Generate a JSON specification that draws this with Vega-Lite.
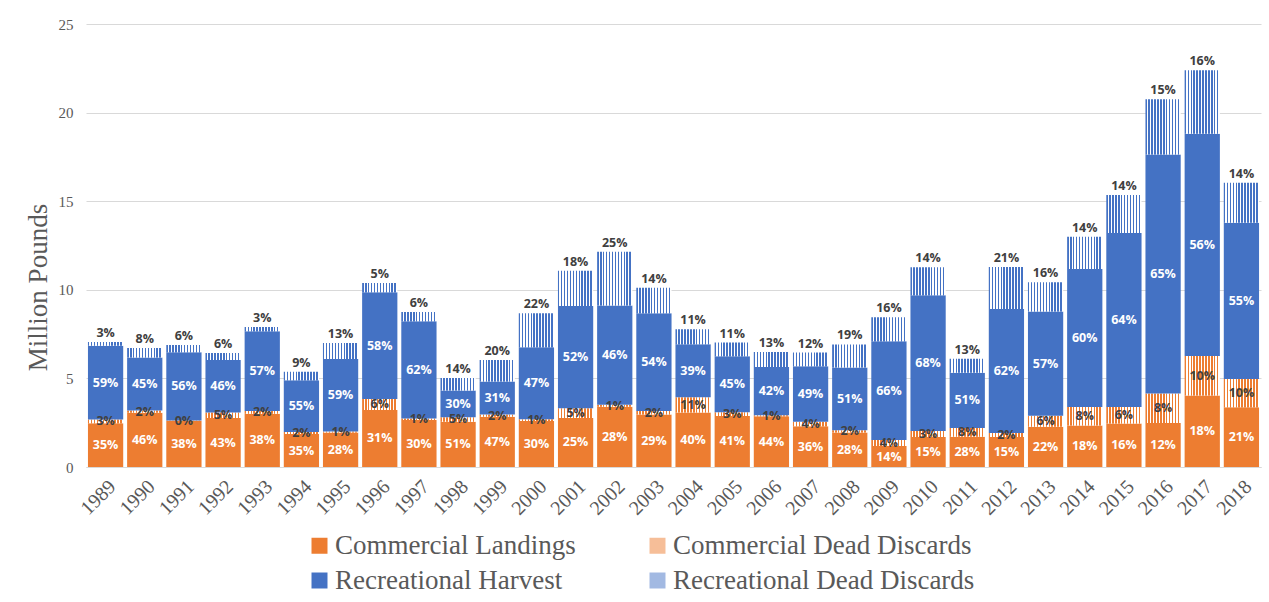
{
  "$schema": "https://vega.github.io/schema/vega-lite/v6.json",
  "width": 1175,
  "height": 443,
  "autosize": {"type": "none"},
  "padding": {"left": 86, "top": 24, "right": 8, "bottom": 135},
  "background": "white",
  "config": {"view": {"stroke": null}},
  "data": {"values": [
    {"year":"1989","series":"Commercial Landings","value":2.47,"pct":35},
    {"year":"1989","series":"Commercial Dead Discards","value":0.21,"pct":3},
    {"year":"1989","series":"Recreational Harvest","value":4.16,"pct":59},
    {"year":"1989","series":"Recreational Dead Discards","value":0.21,"pct":3},
    {"year":"1990","series":"Commercial Landings","value":3.06,"pct":46},
    {"year":"1990","series":"Commercial Dead Discards","value":0.13,"pct":2},
    {"year":"1990","series":"Recreational Harvest","value":2.99,"pct":45},
    {"year":"1990","series":"Recreational Dead Discards","value":0.53,"pct":8},
    {"year":"1991","series":"Commercial Landings","value":2.61,"pct":38},
    {"year":"1991","series":"Commercial Dead Discards","value":0.02,"pct":0},
    {"year":"1991","series":"Recreational Harvest","value":3.85,"pct":56},
    {"year":"1991","series":"Recreational Dead Discards","value":0.41,"pct":6},
    {"year":"1992","series":"Commercial Landings","value":2.76,"pct":43},
    {"year":"1992","series":"Commercial Dead Discards","value":0.32,"pct":5},
    {"year":"1992","series":"Recreational Harvest","value":2.96,"pct":46},
    {"year":"1992","series":"Recreational Dead Discards","value":0.39,"pct":6},
    {"year":"1993","series":"Commercial Landings","value":3.00,"pct":38},
    {"year":"1993","series":"Commercial Dead Discards","value":0.16,"pct":2},
    {"year":"1993","series":"Recreational Harvest","value":4.50,"pct":57},
    {"year":"1993","series":"Recreational Dead Discards","value":0.24,"pct":3},
    {"year":"1994","series":"Commercial Landings","value":1.86,"pct":35},
    {"year":"1994","series":"Commercial Dead Discards","value":0.11,"pct":2},
    {"year":"1994","series":"Recreational Harvest","value":2.92,"pct":55},
    {"year":"1994","series":"Recreational Dead Discards","value":0.48,"pct":9},
    {"year":"1995","series":"Commercial Landings","value":1.94,"pct":28},
    {"year":"1995","series":"Commercial Dead Discards","value":0.07,"pct":1},
    {"year":"1995","series":"Recreational Harvest","value":4.09,"pct":59},
    {"year":"1995","series":"Recreational Dead Discards","value":0.90,"pct":13},
    {"year":"1996","series":"Commercial Landings","value":3.22,"pct":31},
    {"year":"1996","series":"Commercial Dead Discards","value":0.62,"pct":6},
    {"year":"1996","series":"Recreational Harvest","value":6.02,"pct":58},
    {"year":"1996","series":"Recreational Dead Discards","value":0.52,"pct":5},
    {"year":"1997","series":"Commercial Landings","value":2.65,"pct":30},
    {"year":"1997","series":"Commercial Dead Discards","value":0.09,"pct":1},
    {"year":"1997","series":"Recreational Harvest","value":5.48,"pct":62},
    {"year":"1997","series":"Recreational Dead Discards","value":0.53,"pct":6},
    {"year":"1998","series":"Commercial Landings","value":2.56,"pct":51},
    {"year":"1998","series":"Commercial Dead Discards","value":0.25,"pct":5},
    {"year":"1998","series":"Recreational Harvest","value":1.51,"pct":30},
    {"year":"1998","series":"Recreational Dead Discards","value":0.70,"pct":14},
    {"year":"1999","series":"Commercial Landings","value":2.84,"pct":47},
    {"year":"1999","series":"Commercial Dead Discards","value":0.12,"pct":2},
    {"year":"1999","series":"Recreational Harvest","value":1.87,"pct":31},
    {"year":"1999","series":"Recreational Dead Discards","value":1.21,"pct":20},
    {"year":"2000","series":"Commercial Landings","value":2.60,"pct":30},
    {"year":"2000","series":"Commercial Dead Discards","value":0.09,"pct":1},
    {"year":"2000","series":"Recreational Harvest","value":4.07,"pct":47},
    {"year":"2000","series":"Recreational Dead Discards","value":1.91,"pct":22},
    {"year":"2001","series":"Commercial Landings","value":2.77,"pct":25},
    {"year":"2001","series":"Commercial Dead Discards","value":0.55,"pct":5},
    {"year":"2001","series":"Recreational Harvest","value":5.76,"pct":52},
    {"year":"2001","series":"Recreational Dead Discards","value":1.99,"pct":18},
    {"year":"2002","series":"Commercial Landings","value":3.40,"pct":28},
    {"year":"2002","series":"Commercial Dead Discards","value":0.12,"pct":1},
    {"year":"2002","series":"Recreational Harvest","value":5.59,"pct":46},
    {"year":"2002","series":"Recreational Dead Discards","value":3.04,"pct":25},
    {"year":"2003","series":"Commercial Landings","value":2.96,"pct":29},
    {"year":"2003","series":"Commercial Dead Discards","value":0.20,"pct":2},
    {"year":"2003","series":"Recreational Harvest","value":5.52,"pct":54},
    {"year":"2003","series":"Recreational Dead Discards","value":1.43,"pct":14},
    {"year":"2004","series":"Commercial Landings","value":3.08,"pct":40},
    {"year":"2004","series":"Commercial Dead Discards","value":0.85,"pct":11},
    {"year":"2004","series":"Recreational Harvest","value":3.00,"pct":39},
    {"year":"2004","series":"Recreational Dead Discards","value":0.85,"pct":11},
    {"year":"2005","series":"Commercial Landings","value":2.88,"pct":41},
    {"year":"2005","series":"Commercial Dead Discards","value":0.21,"pct":3},
    {"year":"2005","series":"Recreational Harvest","value":3.16,"pct":45},
    {"year":"2005","series":"Recreational Dead Discards","value":0.77,"pct":11},
    {"year":"2006","series":"Commercial Landings","value":2.86,"pct":44},
    {"year":"2006","series":"Commercial Dead Discards","value":0.06,"pct":1},
    {"year":"2006","series":"Recreational Harvest","value":2.73,"pct":42},
    {"year":"2006","series":"Recreational Dead Discards","value":0.84,"pct":13},
    {"year":"2007","series":"Commercial Landings","value":2.30,"pct":36},
    {"year":"2007","series":"Commercial Dead Discards","value":0.26,"pct":4},
    {"year":"2007","series":"Recreational Harvest","value":3.13,"pct":49},
    {"year":"2007","series":"Recreational Dead Discards","value":0.77,"pct":12},
    {"year":"2008","series":"Commercial Landings","value":1.94,"pct":28},
    {"year":"2008","series":"Commercial Dead Discards","value":0.14,"pct":2},
    {"year":"2008","series":"Recreational Harvest","value":3.53,"pct":51},
    {"year":"2008","series":"Recreational Dead Discards","value":1.31,"pct":19},
    {"year":"2009","series":"Commercial Landings","value":1.18,"pct":14},
    {"year":"2009","series":"Commercial Dead Discards","value":0.34,"pct":4},
    {"year":"2009","series":"Recreational Harvest","value":5.58,"pct":66},
    {"year":"2009","series":"Recreational Dead Discards","value":1.35,"pct":16},
    {"year":"2010","series":"Commercial Landings","value":1.69,"pct":15},
    {"year":"2010","series":"Commercial Dead Discards","value":0.34,"pct":3},
    {"year":"2010","series":"Recreational Harvest","value":7.66,"pct":68},
    {"year":"2010","series":"Recreational Dead Discards","value":1.58,"pct":14},
    {"year":"2011","series":"Commercial Landings","value":1.71,"pct":28},
    {"year":"2011","series":"Commercial Dead Discards","value":0.49,"pct":8},
    {"year":"2011","series":"Recreational Harvest","value":3.12,"pct":51},
    {"year":"2011","series":"Recreational Dead Discards","value":0.79,"pct":13},
    {"year":"2012","series":"Commercial Landings","value":1.69,"pct":15},
    {"year":"2012","series":"Commercial Dead Discards","value":0.23,"pct":2},
    {"year":"2012","series":"Recreational Harvest","value":6.99,"pct":62},
    {"year":"2012","series":"Recreational Dead Discards","value":2.37,"pct":21},
    {"year":"2013","series":"Commercial Landings","value":2.27,"pct":22},
    {"year":"2013","series":"Commercial Dead Discards","value":0.62,"pct":6},
    {"year":"2013","series":"Recreational Harvest","value":5.89,"pct":57},
    {"year":"2013","series":"Recreational Dead Discards","value":1.65,"pct":16},
    {"year":"2014","series":"Commercial Landings","value":2.34,"pct":18},
    {"year":"2014","series":"Commercial Dead Discards","value":1.04,"pct":8},
    {"year":"2014","series":"Recreational Harvest","value":7.80,"pct":60},
    {"year":"2014","series":"Recreational Dead Discards","value":1.82,"pct":14},
    {"year":"2015","series":"Commercial Landings","value":2.46,"pct":16},
    {"year":"2015","series":"Commercial Dead Discards","value":0.92,"pct":6},
    {"year":"2015","series":"Recreational Harvest","value":9.82,"pct":64},
    {"year":"2015","series":"Recreational Dead Discards","value":2.15,"pct":14},
    {"year":"2016","series":"Commercial Landings","value":2.49,"pct":12},
    {"year":"2016","series":"Commercial Dead Discards","value":1.66,"pct":8},
    {"year":"2016","series":"Recreational Harvest","value":13.49,"pct":65},
    {"year":"2016","series":"Recreational Dead Discards","value":3.11,"pct":15},
    {"year":"2017","series":"Commercial Landings","value":4.03,"pct":18},
    {"year":"2017","series":"Commercial Dead Discards","value":2.24,"pct":10},
    {"year":"2017","series":"Recreational Harvest","value":12.54,"pct":56},
    {"year":"2017","series":"Recreational Dead Discards","value":3.58,"pct":16},
    {"year":"2018","series":"Commercial Landings","value":3.37,"pct":21},
    {"year":"2018","series":"Commercial Dead Discards","value":1.60,"pct":10},
    {"year":"2018","series":"Recreational Harvest","value":8.82,"pct":55},
    {"year":"2018","series":"Recreational Dead Discards","value":2.25,"pct":14}
  ]},
  "transform": [
    {"calculate": "indexof(['Commercial Landings','Commercial Dead Discards','Recreational Harvest','Recreational Dead Discards'], datum.series)", "as": "ord"},
    {"stack": "value", "groupby": ["year"], "sort": [{"field": "ord", "order": "ascending"}], "as": ["v0", "v1"]},
    {"calculate": "(datum.v0 + datum.v1) / 2", "as": "mid"},
    {"calculate": "datum.pct + '%'", "as": "label"}
  ],
  "encoding": {
    "x": {
      "field": "year", "type": "ordinal",
      "scale": {"paddingInner": 0.1, "paddingOuter": 0.05},
      "axis": {
        "title": null, "labelAngle": -45, "labelFont": "Liberation Serif", "labelFontSize": 20,
        "labelColor": "#595959", "ticks": false, "domainColor": "#d9d9d9", "labelPadding": 9, "grid": false
      }
    }
  },
  "layer": [
    {
      "mark": {"type": "bar"},
      "encoding": {
        "y": {
          "field": "v1", "type": "quantitative",
          "scale": {"domain": [0, 25], "nice": false},
          "axis": {
            "title": "Million Pounds", "titleFont": "Liberation Serif", "titleFontSize": 27, "titleFontWeight": "normal",
            "titleColor": "#595959", "titleAngle": -90, "titleX": -48, "titleY": 263, "titleAlign": "center", "titleBaseline": "middle",
            "values": [0, 5, 10, 15, 20, 25], "labelFont": "Liberation Serif", "labelFontSize": 15, "labelColor": "#595959",
            "labelPadding": 13, "ticks": false, "domain": false, "gridColor": "#d9d9d9", "gridWidth": 1
          }
        },
        "y2": {"field": "v0"},
        "color": {
          "field": "series", "type": "nominal",
          "scale": {
            "domain": ["Commercial Landings", "Commercial Dead Discards", "Recreational Harvest", "Recreational Dead Discards"],
            "range": ["#ED7D31", "#F6BE98", "#4472C4", "#A2B9E2"]
          },
          "condition": [
            {"test": "datum.series === 'Commercial Dead Discards'", "value": {"gradient": "linear", "x1": 0, "y1": 0, "x2": 1, "y2": 0, "stops": [
              {"offset":0,"color":"#ED7D31"},{"offset":0.0417,"color":"#ED7D31"},{"offset":0.0417,"color":"#ffffff"},{"offset":0.0833,"color":"#ffffff"},
              {"offset":0.0833,"color":"#ED7D31"},{"offset":0.125,"color":"#ED7D31"},{"offset":0.125,"color":"#ffffff"},{"offset":0.1667,"color":"#ffffff"},
              {"offset":0.1667,"color":"#ED7D31"},{"offset":0.2083,"color":"#ED7D31"},{"offset":0.2083,"color":"#ffffff"},{"offset":0.25,"color":"#ffffff"},
              {"offset":0.25,"color":"#ED7D31"},{"offset":0.2917,"color":"#ED7D31"},{"offset":0.2917,"color":"#ffffff"},{"offset":0.3333,"color":"#ffffff"},
              {"offset":0.3333,"color":"#ED7D31"},{"offset":0.375,"color":"#ED7D31"},{"offset":0.375,"color":"#ffffff"},{"offset":0.4167,"color":"#ffffff"},
              {"offset":0.4167,"color":"#ED7D31"},{"offset":0.4583,"color":"#ED7D31"},{"offset":0.4583,"color":"#ffffff"},{"offset":0.5,"color":"#ffffff"},
              {"offset":0.5,"color":"#ED7D31"},{"offset":0.5417,"color":"#ED7D31"},{"offset":0.5417,"color":"#ffffff"},{"offset":0.5833,"color":"#ffffff"},
              {"offset":0.5833,"color":"#ED7D31"},{"offset":0.625,"color":"#ED7D31"},{"offset":0.625,"color":"#ffffff"},{"offset":0.6667,"color":"#ffffff"},
              {"offset":0.6667,"color":"#ED7D31"},{"offset":0.7083,"color":"#ED7D31"},{"offset":0.7083,"color":"#ffffff"},{"offset":0.75,"color":"#ffffff"},
              {"offset":0.75,"color":"#ED7D31"},{"offset":0.7917,"color":"#ED7D31"},{"offset":0.7917,"color":"#ffffff"},{"offset":0.8333,"color":"#ffffff"},
              {"offset":0.8333,"color":"#ED7D31"},{"offset":0.875,"color":"#ED7D31"},{"offset":0.875,"color":"#ffffff"},{"offset":0.9167,"color":"#ffffff"},
              {"offset":0.9167,"color":"#ED7D31"},{"offset":0.9583,"color":"#ED7D31"},{"offset":0.9583,"color":"#ffffff"},{"offset":1,"color":"#ffffff"}
            ]}},
            {"test": "datum.series === 'Recreational Dead Discards'", "value": {"gradient": "linear", "x1": 0, "y1": 0, "x2": 1, "y2": 0, "stops": [
              {"offset":0,"color":"#4472C4"},{"offset":0.0417,"color":"#4472C4"},{"offset":0.0417,"color":"#ffffff"},{"offset":0.0833,"color":"#ffffff"},
              {"offset":0.0833,"color":"#4472C4"},{"offset":0.125,"color":"#4472C4"},{"offset":0.125,"color":"#ffffff"},{"offset":0.1667,"color":"#ffffff"},
              {"offset":0.1667,"color":"#4472C4"},{"offset":0.2083,"color":"#4472C4"},{"offset":0.2083,"color":"#ffffff"},{"offset":0.25,"color":"#ffffff"},
              {"offset":0.25,"color":"#4472C4"},{"offset":0.2917,"color":"#4472C4"},{"offset":0.2917,"color":"#ffffff"},{"offset":0.3333,"color":"#ffffff"},
              {"offset":0.3333,"color":"#4472C4"},{"offset":0.375,"color":"#4472C4"},{"offset":0.375,"color":"#ffffff"},{"offset":0.4167,"color":"#ffffff"},
              {"offset":0.4167,"color":"#4472C4"},{"offset":0.4583,"color":"#4472C4"},{"offset":0.4583,"color":"#ffffff"},{"offset":0.5,"color":"#ffffff"},
              {"offset":0.5,"color":"#4472C4"},{"offset":0.5417,"color":"#4472C4"},{"offset":0.5417,"color":"#ffffff"},{"offset":0.5833,"color":"#ffffff"},
              {"offset":0.5833,"color":"#4472C4"},{"offset":0.625,"color":"#4472C4"},{"offset":0.625,"color":"#ffffff"},{"offset":0.6667,"color":"#ffffff"},
              {"offset":0.6667,"color":"#4472C4"},{"offset":0.7083,"color":"#4472C4"},{"offset":0.7083,"color":"#ffffff"},{"offset":0.75,"color":"#ffffff"},
              {"offset":0.75,"color":"#4472C4"},{"offset":0.7917,"color":"#4472C4"},{"offset":0.7917,"color":"#ffffff"},{"offset":0.8333,"color":"#ffffff"},
              {"offset":0.8333,"color":"#4472C4"},{"offset":0.875,"color":"#4472C4"},{"offset":0.875,"color":"#ffffff"},{"offset":0.9167,"color":"#ffffff"},
              {"offset":0.9167,"color":"#4472C4"},{"offset":0.9583,"color":"#4472C4"},{"offset":0.9583,"color":"#ffffff"},{"offset":1,"color":"#ffffff"}
            ]}}
          ],
          "legend": {
            "orient": "none", "legendX": 220, "legendY": 508, "direction": "horizontal", "columns": 2, "title": null,
            "symbolType": "square", "symbolSize": 256, "symbolStrokeWidth": 0,
            "labelFont": "Liberation Serif", "labelFontSize": 27, "labelColor": "#595959", "labelLimit": 500,
            "columnPadding": 68, "rowPadding": 7, "labelOffset": 2, "padding": 0
          }
        }
      }
    },
    {
      "transform": [{"filter": "datum.ord < 3"}],
      "mark": {"type": "text", "font": "Open Sans", "fontSize": 12.5, "fontWeight": "bold", "baseline": "middle"},
      "encoding": {
        "y": {"field": "mid", "type": "quantitative"},
        "text": {"field": "label", "type": "nominal"},
        "color": {"condition": {"test": "datum.ord === 1", "value": "#404040"}, "value": "#ffffff"}
      }
    },
    {
      "transform": [{"filter": "datum.ord === 3"}],
      "mark": {"type": "text", "font": "Open Sans", "fontSize": 12.5, "fontWeight": "bold", "baseline": "bottom", "dy": -2, "color": "#404040"},
      "encoding": {
        "y": {"field": "v1", "type": "quantitative"},
        "text": {"field": "label", "type": "nominal"}
      }
    }
  ]
}
